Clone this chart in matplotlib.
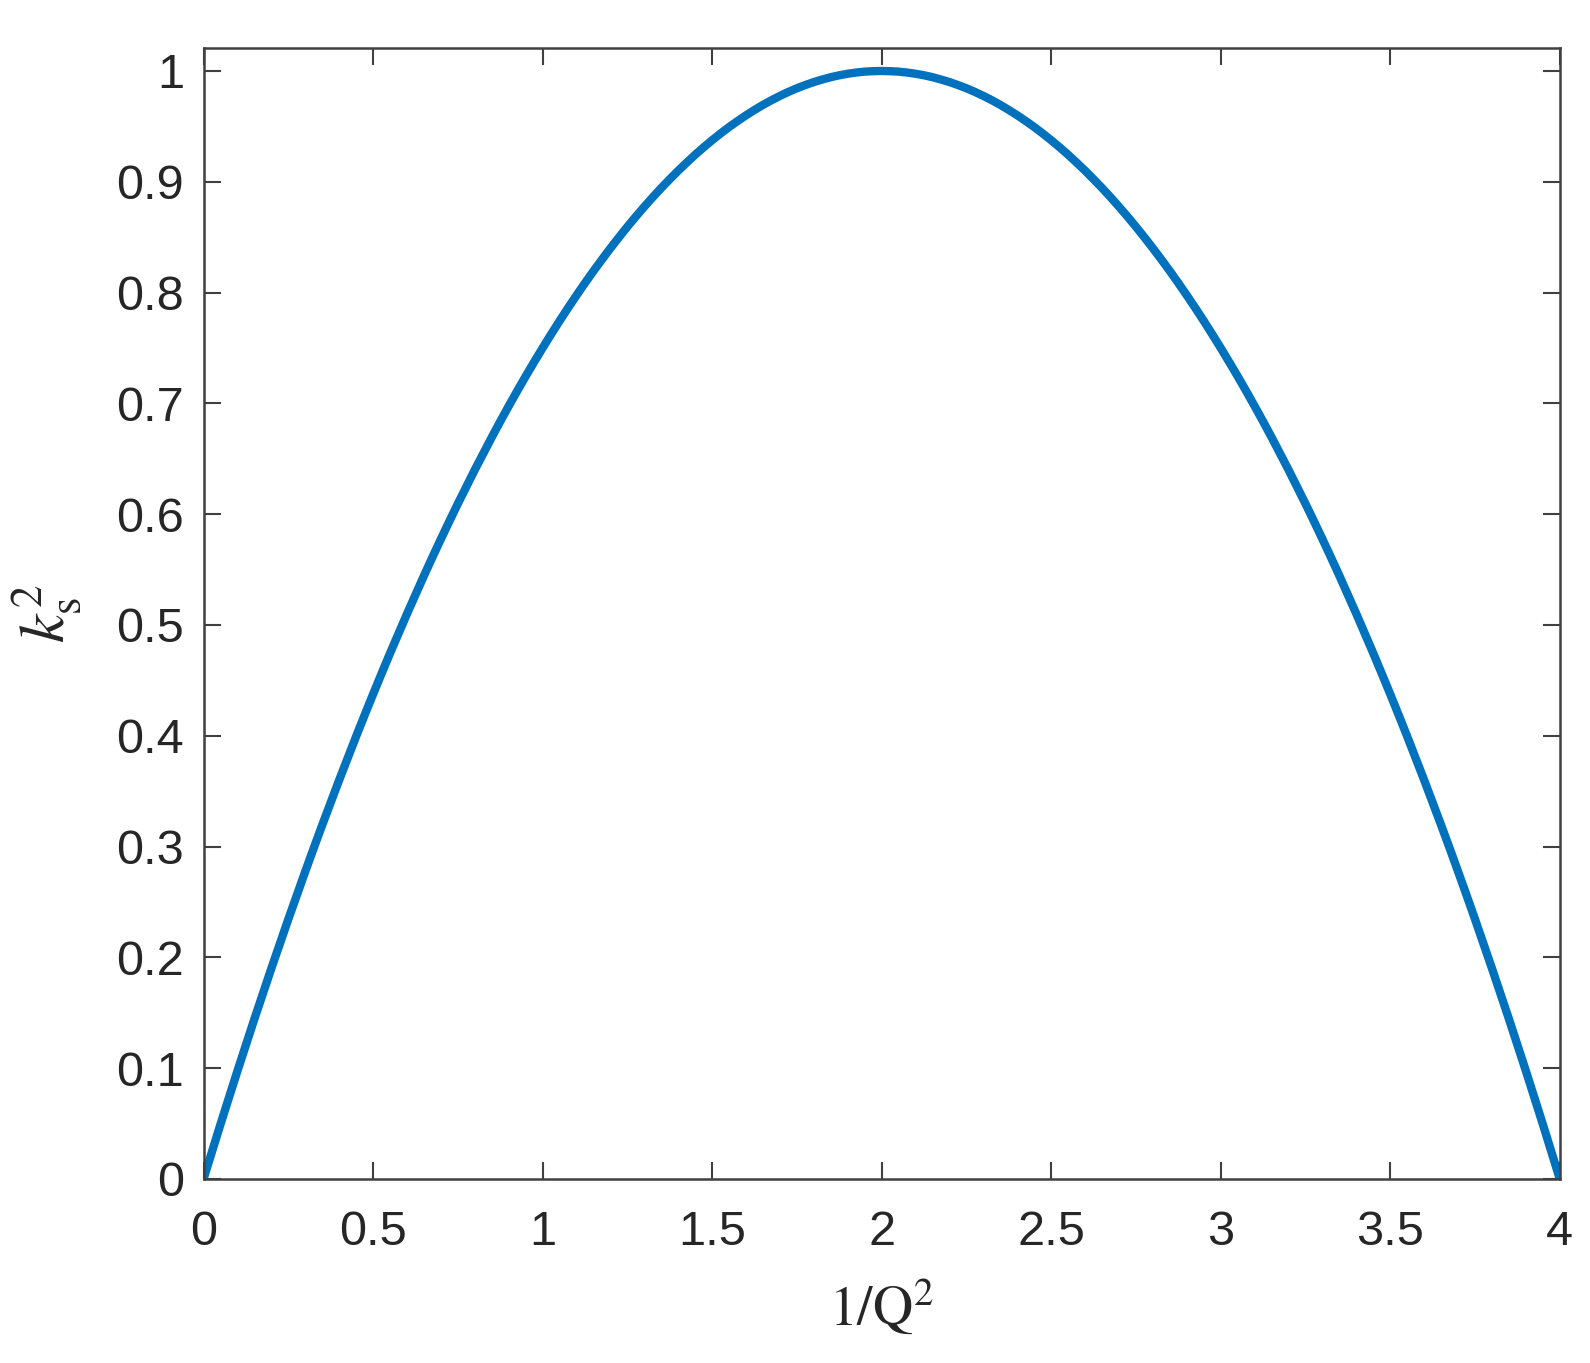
import matplotlib.pyplot as plt

# values
inv_q2 = [0.000, 0.025, 0.050, 0.075, 0.100, 0.125, 0.150, 0.175, 0.200, 0.225,
          0.250, 0.275, 0.300, 0.325, 0.350, 0.375, 0.400, 0.425, 0.450, 0.475,
          0.500, 0.525, 0.550, 0.575, 0.600, 0.625, 0.650, 0.675, 0.700, 0.725,
          0.750, 0.775, 0.800, 0.825, 0.850, 0.875, 0.900, 0.925, 0.950, 0.975,
          1.000, 1.025, 1.050, 1.075, 1.100, 1.125, 1.150, 1.175, 1.200, 1.225,
          1.250, 1.275, 1.300, 1.325, 1.350, 1.375, 1.400, 1.425, 1.450, 1.475,
          1.500, 1.525, 1.550, 1.575, 1.600, 1.625, 1.650, 1.675, 1.700, 1.725,
          1.750, 1.775, 1.800, 1.825, 1.850, 1.875, 1.900, 1.925, 1.950, 1.975,
          2.000, 2.025, 2.050, 2.075, 2.100, 2.125, 2.150, 2.175, 2.200, 2.225,
          2.250, 2.275, 2.300, 2.325, 2.350, 2.375, 2.400, 2.425, 2.450, 2.475,
          2.500, 2.525, 2.550, 2.575, 2.600, 2.625, 2.650, 2.675, 2.700, 2.725,
          2.750, 2.775, 2.800, 2.825, 2.850, 2.875, 2.900, 2.925, 2.950, 2.975,
          3.000, 3.025, 3.050, 3.075, 3.100, 3.125, 3.150, 3.175, 3.200, 3.225,
          3.250, 3.275, 3.300, 3.325, 3.350, 3.375, 3.400, 3.425, 3.450, 3.475,
          3.500, 3.525, 3.550, 3.575, 3.600, 3.625, 3.650, 3.675, 3.700, 3.725,
          3.750, 3.775, 3.800, 3.825, 3.850, 3.875, 3.900, 3.925, 3.950, 3.975,
          4.000]
ks2 = [0.0000, 0.0248, 0.0494, 0.0736, 0.0975, 0.1211, 0.1444, 0.1673, 0.1900, 0.2123,
       0.2344, 0.2561, 0.2775, 0.2986, 0.3194, 0.3398, 0.3600, 0.3798, 0.3994, 0.4186,
       0.4375, 0.4561, 0.4744, 0.4923, 0.5100, 0.5273, 0.5444, 0.5611, 0.5775, 0.5936,
       0.6094, 0.6248, 0.6400, 0.6548, 0.6694, 0.6836, 0.6975, 0.7111, 0.7244, 0.7373,
       0.7500, 0.7623, 0.7744, 0.7861, 0.7975, 0.8086, 0.8194, 0.8298, 0.8400, 0.8498,
       0.8594, 0.8686, 0.8775, 0.8861, 0.8944, 0.9023, 0.9100, 0.9173, 0.9244, 0.9311,
       0.9375, 0.9436, 0.9494, 0.9548, 0.9600, 0.9648, 0.9694, 0.9736, 0.9775, 0.9811,
       0.9844, 0.9873, 0.9900, 0.9923, 0.9944, 0.9961, 0.9975, 0.9986, 0.9994, 0.9998,
       1.0000, 0.9998, 0.9994, 0.9986, 0.9975, 0.9961, 0.9944, 0.9923, 0.9900, 0.9873,
       0.9844, 0.9811, 0.9775, 0.9736, 0.9694, 0.9648, 0.9600, 0.9548, 0.9494, 0.9436,
       0.9375, 0.9311, 0.9244, 0.9173, 0.9100, 0.9023, 0.8944, 0.8861, 0.8775, 0.8686,
       0.8594, 0.8498, 0.8400, 0.8298, 0.8194, 0.8086, 0.7975, 0.7861, 0.7744, 0.7623,
       0.7500, 0.7373, 0.7244, 0.7111, 0.6975, 0.6836, 0.6694, 0.6548, 0.6400, 0.6248,
       0.6094, 0.5936, 0.5775, 0.5611, 0.5444, 0.5273, 0.5100, 0.4923, 0.4744, 0.4561,
       0.4375, 0.4186, 0.3994, 0.3798, 0.3600, 0.3398, 0.3194, 0.2986, 0.2775, 0.2561,
       0.2344, 0.2123, 0.1900, 0.1673, 0.1444, 0.1211, 0.0975, 0.0736, 0.0494, 0.0248,
       0.0000]
xticks = [0, 0.5, 1, 1.5, 2, 2.5, 3, 3.5, 4]
xtick_labels = ["0", "0.5", "1", "1.5", "2", "2.5", "3", "3.5", "4"]
yticks = [0, 0.1, 0.2, 0.3, 0.4, 0.5, 0.6, 0.7, 0.8, 0.9, 1]
ytick_labels = ["0", "0.1", "0.2", "0.3", "0.4", "0.5", "0.6", "0.7", "0.8", "0.9", "1"]

plt.rcParams["font.family"] = ["Liberation Sans", "DejaVu Sans"]
plt.rcParams["mathtext.fontset"] = "stix"

fig = plt.figure(figsize=(15.9, 13.63), dpi=100)
ax = fig.add_axes([0.128, 0.135, 0.853, 0.830])

ax.plot(inv_q2, ks2, color="#0072BD", linewidth=6, solid_joinstyle="round")

ax.set_xlim(0, 4)
ax.set_ylim(0, 1.021)
ax.set_xticks(xticks)
ax.set_xticklabels(xtick_labels)
ax.set_yticks(yticks)
ax.set_yticklabels(ytick_labels)

grey = "#404040"
ax.tick_params(direction="in", length=12, width=1.5, colors=grey, labelcolor="#262626",
               labelsize=35, top=True, right=True)
ax.tick_params(axis="x", pad=22)
ax.tick_params(axis="y", pad=14)
for s in ax.spines.values():
    s.set_color(grey)
    s.set_linewidth(1.8)

ax.set_xlabel(r"$\mathrm{1/Q}^{2}$", fontsize=40, color="#262626", labelpad=16)
ax.set_ylabel(r"$k_{\mathrm{s}}^{2}$", fontsize=46, color="#262626", labelpad=24)

fig.savefig("out.png", dpi=100)
